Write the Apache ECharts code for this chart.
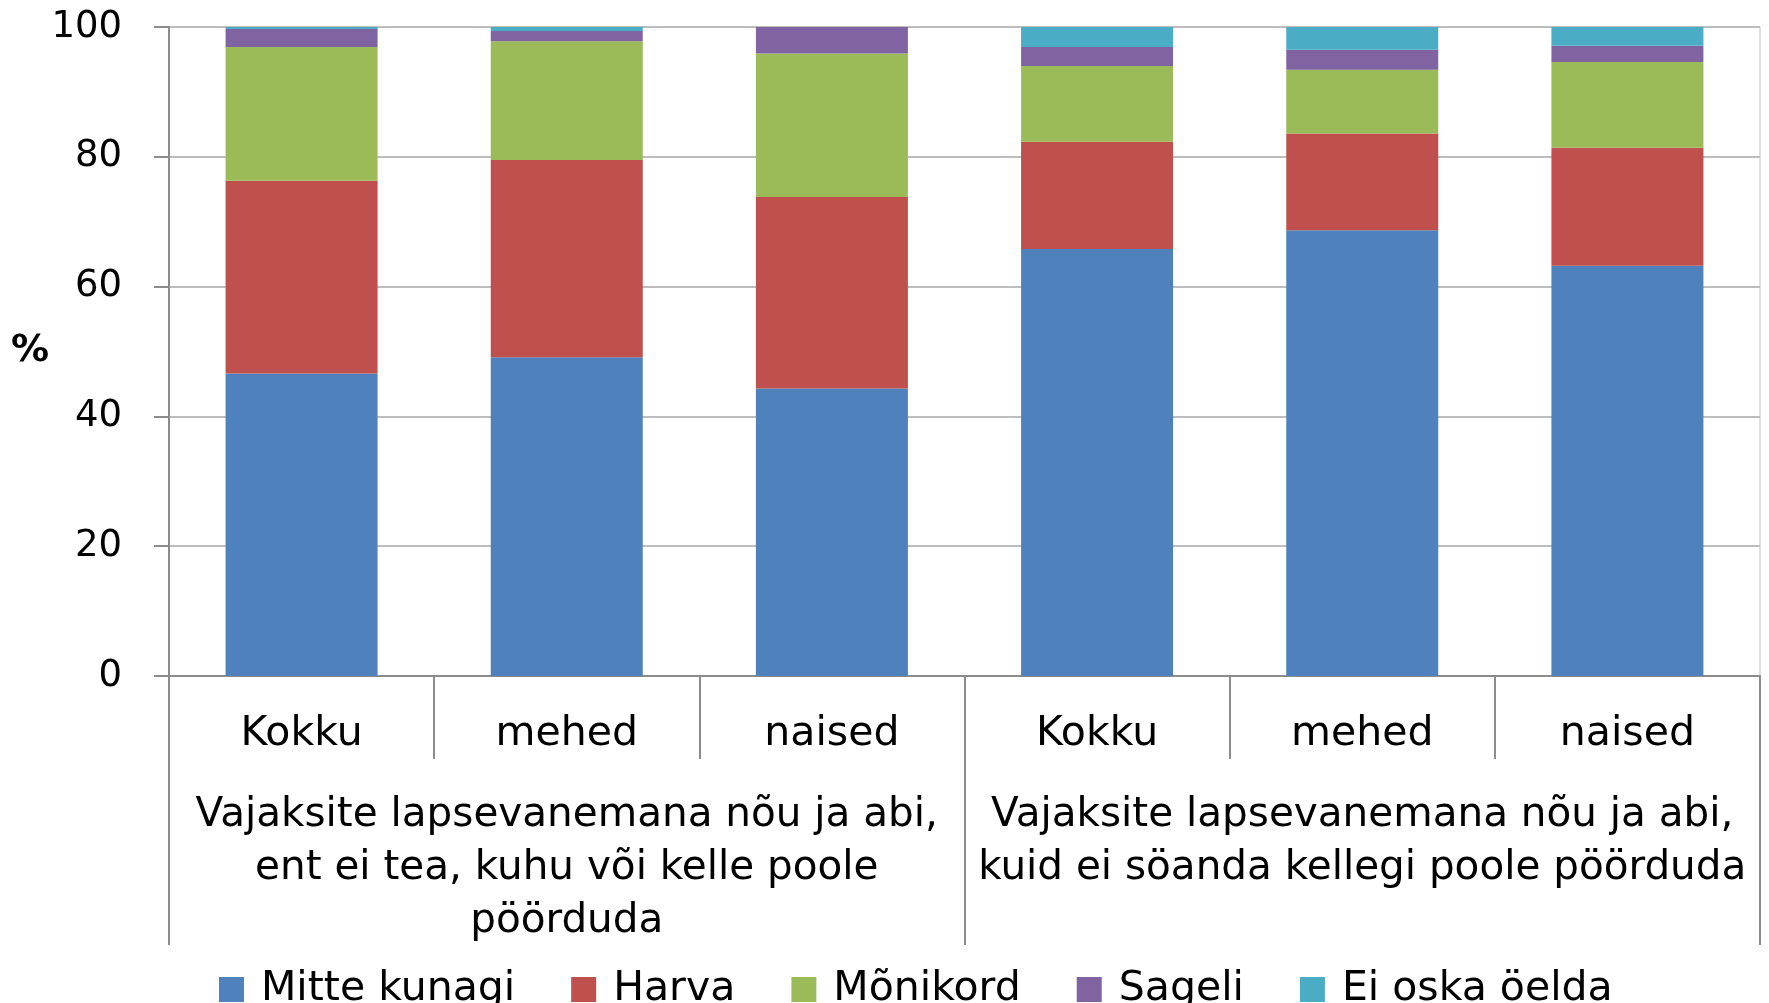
<!DOCTYPE html>
<html>
<head>
<meta charset="utf-8">
<script src="https://cdn.jsdelivr.net/npm/echarts@6/dist/echarts.min.js"></script>
<style>
  html, body { margin: 0; padding: 0; background: #fff; }
  #main { width: 1769px; height: 1003px; }
</style>
</head>
<body>
<div id="main"></div>
<script>
"use strict";
// categories (two-level x axis)
const subCategories = ['Kokku', 'mehed', 'naised', 'Kokku', 'mehed', 'naised'];
const groupCategories = [
    'Vajaksite lapsevanemana nõu ja abi,\nent ei tea, kuhu või kelle poole\npöörduda',
    'Vajaksite lapsevanemana nõu ja abi,\nkuid ei söanda kellegi poole pöörduda'
];
const seriesNames = ['Mitte kunagi', 'Harva', 'Mõnikord', 'Sageli', 'Ei oska öelda'];
const seriesColors = ['#4F81BD', '#C0504D', '#9BBB59', '#8064A2', '#4BACC6'];

// values in %
const mitteKunagi = [46.6, 49.1, 44.3, 65.8, 68.7, 63.2];
const harva       = [29.7, 30.4, 29.5, 16.5, 14.9, 18.2];
const monikord    = [20.6, 18.3, 22.1, 11.7, 9.8, 13.2];
const sageli      = [2.8, 1.6, 4.1, 2.9, 3.1, 2.5];
const eiOska      = [0.3, 0.6, 0, 3.1, 3.5, 2.9];

const yTicks = [0, 20, 40, 60, 80, 100];

const font = 'DejaVu Sans';
const allValues = [mitteKunagi, harva, monikord, sageli, eiOska];

let myChart = echarts.init(document.getElementById('main'));

let series = seriesNames.map(function (name, i) {
    return {
        name: name,
        type: 'bar',
        stack: 'total',
        xAxisIndex: 0,
        barWidth: 152,
        color: seriesColors[i],
        data: allValues[i]
    };
});

let option = {
    animation: false,
    textStyle: { fontFamily: font },
    grid: {
        left: 169, right: 9, top: 27, bottom: 327,
        show: true, borderColor: '#bfbfbf', borderWidth: 1
    },
    legend: {
        data: seriesNames,
        left: 214,
        top: 964,
        itemWidth: 25,
        itemHeight: 25,
        itemGap: 56,
        icon: 'rect',
        textStyle: { fontFamily: font, fontSize: 41, color: '#000', padding: [0, 0, 0, 12] }
    },
    xAxis: [
        {
            type: 'category',
            position: 'bottom',
            data: subCategories,
            axisLine: { show: true, lineStyle: { color: '#8c8c8c', width: 2 } },
            axisTick: { show: true, length: 83, lineStyle: { color: '#8c8c8c', width: 2 } },
            axisLabel: {
                interval: 0, margin: 32, fontSize: 41, lineHeight: 52,
                color: '#000', fontFamily: font
            }
        },
        {
            type: 'category',
            position: 'bottom',
            data: groupCategories,
            axisLine: { show: false },
            axisTick: { show: true, length: 269, lineStyle: { color: '#8c8c8c', width: 2 } },
            axisLabel: {
                interval: 0, margin: 113, fontSize: 40.5, lineHeight: 53,
                color: '#000', fontFamily: font, align: 'center'
            }
        }
    ],
    yAxis: {
        type: 'value',
        min: 0,
        max: 100,
        interval: 20,
        name: '%',
        nameLocation: 'middle',
        nameRotate: 0,
        nameGap: 120,
        nameMoveOverlap: false,
        nameTextStyle: { fontFamily: font, fontSize: 38, fontWeight: 'bold', color: '#000', verticalAlign: 'middle' },
        axisLine: { show: true, lineStyle: { color: '#8c8c8c', width: 2 } },
        axisTick: { show: true, length: 15, lineStyle: { color: '#8c8c8c', width: 2 } },
        axisLabel: {
            margin: 47, fontSize: 37, color: '#000', fontFamily: font,
            formatter: function (v) { return yTicks.indexOf(v) >= 0 ? String(v) : ''; }
        },
        splitLine: { show: true, lineStyle: { color: '#bdbdbd', width: 2 } }
    },
    series: series
};

myChart.setOption(option);
</script>
</body>
</html>
